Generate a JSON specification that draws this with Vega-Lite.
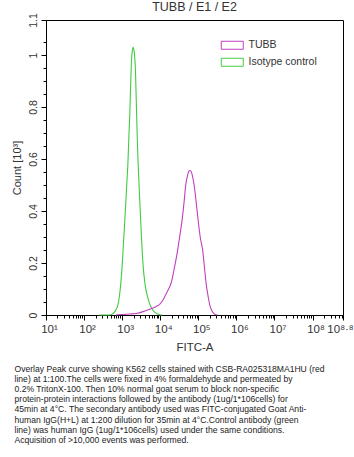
{
  "$schema": "https://vega.github.io/schema/vega-lite/v6.json",
  "background": "white",
  "padding": {"left": 10, "top": 0, "right": 0, "bottom": 5},
  "title": {
    "text": [
      "Overlay Peak curve showing K562 cells stained with CSB-RA025318MA1HU (red",
      "line) at 1:100.The cells were fixed in 4% formaldehyde and permeated by",
      "0.2% TritonX-100. Then 10% normal goat serum to block non-specific",
      "protein-protein interactions followed by the antibody (1ug/1*106cells) for",
      "45min at 4°C. The secondary antibody used was FITC-conjugated Goat Anti-",
      "human IgG(H+L) at 1:200 dilution for 35min at 4°C.Control antibody (green",
      "line) was human IgG (1ug/1*106cells) used under the same conditions.",
      "Acquisition of >10,000 events was performed."
    ],
    "orient": "bottom",
    "anchor": "start",
    "frame": "bounds",
    "font": "Liberation Sans",
    "fontSize": 8.6,
    "fontWeight": "normal",
    "color": "#222222",
    "lineHeight": 10.2,
    "offset": 11,
    "dx": 4
  },
  "config": {
    "view": {"stroke": "black", "strokeWidth": 1},
    "axis": {
      "domainColor": "black",
      "tickColor": "black",
      "labelFont": "Liberation Sans",
      "titleFont": "Liberation Sans",
      "labelColor": "#333333",
      "titleColor": "#333333",
      "grid": false,
      "titleFontWeight": "normal"
    }
  },
  "datasets": {
    "curves": [
      {"series": "Isotype control", "logFITC": 2.40, "count": 0},
      {"series": "Isotype control", "logFITC": 2.60, "count": 0},
      {"series": "Isotype control", "logFITC": 2.72, "count": 0.002},
      {"series": "Isotype control", "logFITC": 2.80, "count": 0.012},
      {"series": "Isotype control", "logFITC": 2.89, "count": 0.04},
      {"series": "Isotype control", "logFITC": 2.95, "count": 0.10},
      {"series": "Isotype control", "logFITC": 3.00, "count": 0.19},
      {"series": "Isotype control", "logFITC": 3.04, "count": 0.29},
      {"series": "Isotype control", "logFITC": 3.08, "count": 0.39},
      {"series": "Isotype control", "logFITC": 3.12, "count": 0.50},
      {"series": "Isotype control", "logFITC": 3.15, "count": 0.58},
      {"series": "Isotype control", "logFITC": 3.18, "count": 0.70},
      {"series": "Isotype control", "logFITC": 3.20, "count": 0.77},
      {"series": "Isotype control", "logFITC": 3.22, "count": 0.87},
      {"series": "Isotype control", "logFITC": 3.24, "count": 0.96},
      {"series": "Isotype control", "logFITC": 3.27, "count": 1.02},
      {"series": "Isotype control", "logFITC": 3.29, "count": 1.03},
      {"series": "Isotype control", "logFITC": 3.31, "count": 1.02},
      {"series": "Isotype control", "logFITC": 3.33, "count": 0.99},
      {"series": "Isotype control", "logFITC": 3.35, "count": 0.94},
      {"series": "Isotype control", "logFITC": 3.38, "count": 0.77},
      {"series": "Isotype control", "logFITC": 3.40, "count": 0.67},
      {"series": "Isotype control", "logFITC": 3.42, "count": 0.58},
      {"series": "Isotype control", "logFITC": 3.45, "count": 0.48},
      {"series": "Isotype control", "logFITC": 3.48, "count": 0.385},
      {"series": "Isotype control", "logFITC": 3.51, "count": 0.29},
      {"series": "Isotype control", "logFITC": 3.55, "count": 0.19},
      {"series": "Isotype control", "logFITC": 3.60, "count": 0.12},
      {"series": "Isotype control", "logFITC": 3.68, "count": 0.063},
      {"series": "Isotype control", "logFITC": 3.76, "count": 0.03},
      {"series": "Isotype control", "logFITC": 3.86, "count": 0.01},
      {"series": "Isotype control", "logFITC": 3.99, "count": 0.001},
      {"series": "Isotype control", "logFITC": 4.05, "count": 0},
      {"series": "TUBB", "logFITC": 2.84, "count": 0},
      {"series": "TUBB", "logFITC": 3.00, "count": 0.002},
      {"series": "TUBB", "logFITC": 3.20, "count": 0.004},
      {"series": "TUBB", "logFITC": 3.37, "count": 0.006},
      {"series": "TUBB", "logFITC": 3.55, "count": 0.013},
      {"series": "TUBB", "logFITC": 3.68, "count": 0.02},
      {"series": "TUBB", "logFITC": 3.81, "count": 0.027},
      {"series": "TUBB", "logFITC": 3.90, "count": 0.033},
      {"series": "TUBB", "logFITC": 3.99, "count": 0.042},
      {"series": "TUBB", "logFITC": 4.08, "count": 0.06},
      {"series": "TUBB", "logFITC": 4.15, "count": 0.08},
      {"series": "TUBB", "logFITC": 4.22, "count": 0.10},
      {"series": "TUBB", "logFITC": 4.29, "count": 0.125},
      {"series": "TUBB", "logFITC": 4.37, "count": 0.18},
      {"series": "TUBB", "logFITC": 4.45, "count": 0.243},
      {"series": "TUBB", "logFITC": 4.52, "count": 0.31},
      {"series": "TUBB", "logFITC": 4.58, "count": 0.372},
      {"series": "TUBB", "logFITC": 4.63, "count": 0.44},
      {"series": "TUBB", "logFITC": 4.67, "count": 0.50},
      {"series": "TUBB", "logFITC": 4.72, "count": 0.539},
      {"series": "TUBB", "logFITC": 4.75, "count": 0.553},
      {"series": "TUBB", "logFITC": 4.78, "count": 0.556},
      {"series": "TUBB", "logFITC": 4.81, "count": 0.553},
      {"series": "TUBB", "logFITC": 4.84, "count": 0.539},
      {"series": "TUBB", "logFITC": 4.89, "count": 0.50},
      {"series": "TUBB", "logFITC": 4.94, "count": 0.44},
      {"series": "TUBB", "logFITC": 4.99, "count": 0.372},
      {"series": "TUBB", "logFITC": 5.05, "count": 0.30},
      {"series": "TUBB", "logFITC": 5.12, "count": 0.243},
      {"series": "TUBB", "logFITC": 5.17, "count": 0.17},
      {"series": "TUBB", "logFITC": 5.21, "count": 0.116},
      {"series": "TUBB", "logFITC": 5.26, "count": 0.07},
      {"series": "TUBB", "logFITC": 5.30, "count": 0.039},
      {"series": "TUBB", "logFITC": 5.36, "count": 0.015},
      {"series": "TUBB", "logFITC": 5.43, "count": 0.003},
      {"series": "TUBB", "logFITC": 5.50, "count": 0}
    ]
  },
  "vconcat": [
    {
      "width": 297,
      "height": 295,
      "title": {
        "text": "TUBB / E1 / E2",
        "frame": "group",
        "font": "Liberation Sans",
        "fontSize": 12.5,
        "fontWeight": "normal",
        "color": "#333333",
        "offset": -1
      },
      "data": {"name": "curves"},
      "resolve": {"axis": {"x": "independent", "y": "independent"}},
      "layer": [
        {
          "mark": {"type": "line", "strokeWidth": 1.1, "interpolate": "monotone"},
          "encoding": {
            "x": {
              "field": "logFITC",
              "type": "quantitative",
              "scale": {"domain": [1, 8.8], "nice": false, "zero": false},
              "axis": {
                "values": [1, 2, 3, 4, 5, 6, 7, 8, 8.8],
                "labelExpr": "datum.value > 8.5 ? '10⁸·⁸' : '10' + ['', '¹', '²', '³', '⁴', '⁵', '⁶', '⁷', '⁸'][datum.value]",
                "labelOverlap": false,
                "labelFlush": false,
                "labelOffset": {"condition": {"test": "datum.value > 8.5", "value": -3}, "value": 3},
                "labelFontSize": 11.5,
                "labelPadding": 3,
                "tickSize": 5,
                "title": "FITC-A",
                "titleFontSize": 11.5,
                "titlePadding": 7
              }
            },
            "y": {
              "field": "count",
              "type": "quantitative",
              "scale": {"domain": [0, 1.135], "nice": false, "zero": true},
              "axis": {
                "values": [0, 0.2, 0.4, 0.6, 0.8, 1, 1.135],
                "labelExpr": "datum.value > 1.05 ? '1.1' : format(datum.value, '~g')",
                "labelOverlap": false,
                "labelFlush": false,
                "labelAngle": 270,
                "labelFontSize": 10.5,
                "labelPadding": 3,
                "tickSize": 5,
                "title": "Count [10³]",
                "titleFontSize": 11,
                "titlePadding": 6
              }
            },
            "color": {
              "field": "series",
              "type": "nominal",
              "scale": {"domain": ["TUBB", "Isotype control"], "range": ["#c040c0", "#40cc40"]},
              "legend": {
                "title": null,
                "orient": "none",
                "legendX": 181,
                "legendY": 20,
                "padding": 0,
                "symbolType": "M-2.75,-1L2.75,-1L2.75,1L-2.75,1Z",
                "symbolSize": 64,
                "symbolStrokeWidth": 1,
                "symbolFillColor": "white",
                "labelOffset": 11,
                "labelFont": "Liberation Sans",
                "labelFontSize": 10.5,
                "labelColor": "#333333",
                "rowPadding": 4
              }
            }
          }
        },
        {
          "mark": {"type": "point", "opacity": 0},
          "encoding": {
            "x": {
              "field": "logFITC",
              "type": "quantitative",
              "axis": {
                "orient": "bottom",
                "values": [1.301, 1.477, 1.602, 1.699, 1.778, 1.845, 1.903, 1.954, 2.301, 2.477, 2.602, 2.699, 2.778, 2.845, 2.903, 2.954, 3.301, 3.477, 3.602, 3.699, 3.778, 3.845, 3.903, 3.954, 4.301, 4.477, 4.602, 4.699, 4.778, 4.845, 4.903, 4.954, 5.301, 5.477, 5.602, 5.699, 5.778, 5.845, 5.903, 5.954, 6.301, 6.477, 6.602, 6.699, 6.778, 6.845, 6.903, 6.954, 7.301, 7.477, 7.602, 7.699, 7.778, 7.845, 7.903, 7.954, 8.301, 8.477, 8.602, 8.699, 8.778],
                "labels": false,
                "domain": false,
                "tickSize": 3,
                "title": null
              }
            },
            "y": {
              "field": "count",
              "type": "quantitative",
              "axis": {
                "orient": "left",
                "values": [0.05, 0.1, 0.15, 0.25, 0.3, 0.35, 0.45, 0.5, 0.55, 0.65, 0.7, 0.75, 0.85, 0.9, 0.95, 1.05],
                "labels": false,
                "domain": false,
                "tickSize": 3,
                "title": null
              }
            }
          }
        }
      ]
    }
  ]
}
